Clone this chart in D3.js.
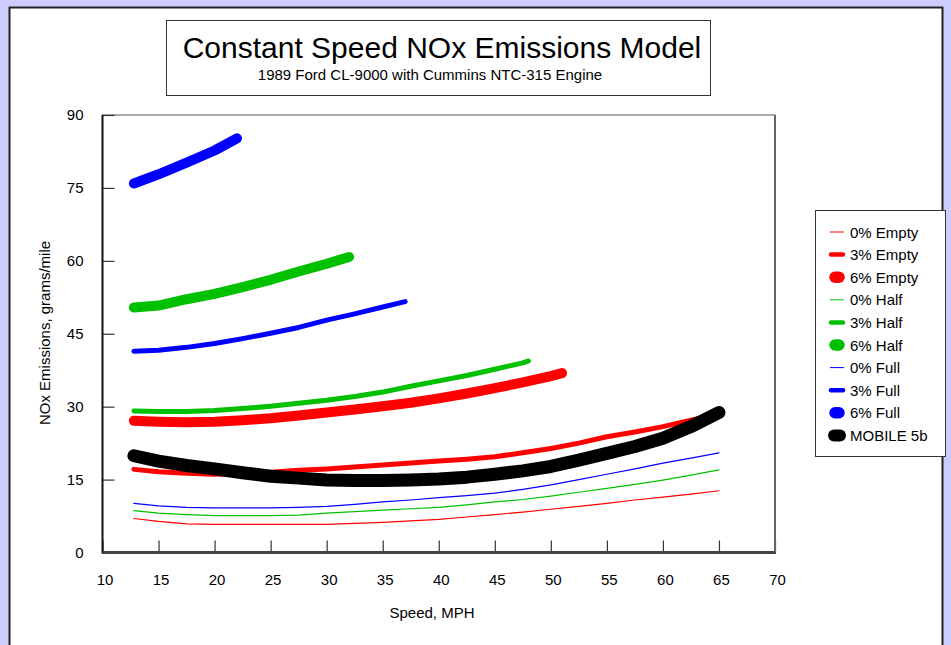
<!DOCTYPE html>
<html>
<head>
<meta charset="utf-8">
<script src="https://cdn.jsdelivr.net/npm/d3@7/dist/d3.min.js"></script>
<style>
  html, body { margin: 0; padding: 0; background: #ccccff; }
  svg { display: block; font-family: "Liberation Sans", Arial, sans-serif; }
</style>
</head>
<body>
<svg id="chart" width="951" height="645"></svg>
<script>
// ---------------- DATA ----------------
const titleText = "Constant Speed NOx Emissions Model";
const subtitleText = "1989 Ford CL-9000 with Cummins NTC-315 Engine";
const xLabel = "Speed, MPH";
const yLabel = "NOx Emissions, grams/mile";

const xTicks = [10, 15, 20, 25, 30, 35, 40, 45, 50, 55, 60, 65, 70];
const yTicks = [0, 15, 30, 45, 60, 75, 90];

const speedsLong   = [12.8, 15, 17.5, 20, 22.5, 25, 27.5, 30, 32.5, 35, 37.5, 40, 42.5, 45, 47.5, 50, 52.5, 55, 57.5, 60, 62.5, 65];
const speeds6Empty = [12.8, 15, 17.5, 20, 22.5, 25, 27.5, 30, 32.5, 35, 37.5, 40, 42.5, 45, 47.5, 50, 51];
const speeds3Half  = [12.8, 15, 17.5, 20, 22.5, 25, 27.5, 30, 32.5, 35, 37.5, 40, 42.5, 45, 47.5, 48];
const speeds6Half  = [12.8, 15, 17.5, 20, 22.5, 25, 27.5, 30, 32];
const speeds3Full  = [12.8, 15, 17.5, 20, 22.5, 25, 27.5, 30, 32.5, 35, 37];
const speeds6Full  = [12.8, 15, 17.5, 20, 22];

const empty0 = [7.0, 6.4, 5.9, 5.8, 5.8, 5.8, 5.8, 5.8, 6.0, 6.2, 6.5, 6.8, 7.3, 7.8, 8.3, 8.9, 9.5, 10.1, 10.8, 11.4, 12.0, 12.7];
const empty3 = [17.1, 16.6, 16.3, 16.1, 16.2, 16.5, 16.9, 17.2, 17.6, 18.0, 18.4, 18.8, 19.2, 19.7, 20.5, 21.4, 22.5, 23.8, 24.8, 25.9, 27.2, 28.5];
const empty6 = [27.1, 26.9, 26.8, 26.9, 27.2, 27.6, 28.2, 28.8, 29.4, 30.1, 30.8, 31.7, 32.7, 33.8, 35.0, 36.3, 36.9];
const half0  = [8.6, 8.1, 7.8, 7.6, 7.6, 7.6, 7.7, 8.1, 8.4, 8.7, 9.0, 9.3, 9.8, 10.4, 10.9, 11.6, 12.4, 13.2, 14.0, 14.9, 15.9, 17.0];
const half3  = [29.1, 29.0, 29.0, 29.2, 29.6, 30.1, 30.7, 31.3, 32.1, 33.0, 34.2, 35.3, 36.4, 37.7, 39.0, 39.4];
const half6  = [50.4, 50.8, 52.1, 53.2, 54.6, 56.1, 57.8, 59.4, 60.8];
const full0  = [10.1, 9.6, 9.3, 9.2, 9.2, 9.2, 9.3, 9.5, 9.9, 10.4, 10.8, 11.3, 11.7, 12.2, 13.0, 13.9, 15.0, 16.1, 17.2, 18.4, 19.4, 20.5];
const full3  = [41.4, 41.6, 42.2, 43.0, 44.0, 45.1, 46.3, 47.8, 49.1, 50.5, 51.6];
const full6  = [75.9, 77.8, 80.2, 82.7, 85.2];
const mobile5b = [19.9, 18.8, 17.9, 17.2, 16.4, 15.7, 15.3, 14.9, 14.8, 14.8, 14.9, 15.1, 15.5, 16.1, 16.8, 17.7, 19.0, 20.4, 21.8, 23.5, 25.9, 28.8];

const seriesNames = ["0% Empty", "3% Empty", "6% Empty", "0% Half", "3% Half", "6% Half", "0% Full", "3% Full", "6% Full", "MOBILE 5b"];
const seriesSpeeds = [speedsLong, speedsLong, speeds6Empty, speedsLong, speeds3Half, speeds6Half, speedsLong, speeds3Full, speeds6Full, speedsLong];
const seriesValues = [empty0, empty3, empty6, half0, half3, half6, full0, full3, full6, mobile5b];

// ---------------- STYLE ----------------
const colorOf = ["#ff0000", "#ff0000", "#ff0000", "#00c000", "#00c000", "#00c000", "#0000ff", "#0000ff", "#0000ff", "#000000"];
const widthOf = [1.2, 5, 10, 1.2, 5, 10, 1.2, 5, 10, 13];

const svg = d3.select("#chart");

// panel
svg.append("rect").attr("x", 9.5).attr("y", 7.5).attr("width", 933).attr("height", 660)
  .attr("fill", "#ffffff").attr("stroke", "#222").attr("stroke-width", 2);

// title box
svg.append("rect").attr("x", 166.5).attr("y", 20.5).attr("width", 544).attr("height", 75)
  .attr("fill", "#fff").attr("stroke", "#333").attr("stroke-width", 1);
svg.append("text").attr("x", 442).attr("y", 58).attr("text-anchor", "middle")
  .attr("font-size", 30).attr("fill", "#000").text(titleText);
svg.append("text").attr("x", 430).attr("y", 80).attr("text-anchor", "middle")
  .attr("font-size", 15).attr("fill", "#000").text(subtitleText);

// scales
const L = 102.5, R = 775, T = 115, B = 552.5;
const x = d3.scaleLinear().domain([10, 70]).range([L, R]);
const y = d3.scaleLinear().domain([0, 90]).range([B, T]);

// plot frame
svg.append("rect").attr("x", L).attr("y", T).attr("width", R - L).attr("height", B - T)
  .attr("fill", "#fff").attr("stroke", "#555").attr("stroke-width", 1);

// axes (inward ticks)
const gx = svg.append("g").attr("transform", `translate(0,${B})`)
  .call(d3.axisBottom(x).tickValues(xTicks).tickSizeInner(-12).tickSizeOuter(0).tickPadding(22).tickFormat(d3.format("d")));
const gy = svg.append("g").attr("transform", `translate(${L},0)`)
  .call(d3.axisLeft(y).tickValues(yTicks).tickSizeInner(-12).tickSizeOuter(0).tickPadding(19).tickFormat(d3.format("d")));
[gx, gy].forEach(g => {
  g.select(".domain").remove();
  g.selectAll(".tick line").attr("stroke", "#333").attr("stroke-width", 1.2);
  g.selectAll(".tick text").attr("font-size", 15).attr("fill", "#000")
    .attr("font-family", "'Liberation Sans', Arial, sans-serif");
});
gx.selectAll(".tick text").attr("dx", 2);

// frame edges
svg.append("line").attr("x1", L).attr("x2", L).attr("y1", T).attr("y2", B + 1)
  .attr("stroke", "#111").attr("stroke-width", 2);
svg.append("line").attr("x1", L).attr("x2", R + 1).attr("y1", B).attr("y2", B)
  .attr("stroke", "#444").attr("stroke-width", 3);
svg.append("line").attr("x1", R).attr("x2", R).attr("y1", T).attr("y2", B)
  .attr("stroke", "#666").attr("stroke-width", 2);

// axis titles
svg.append("text").attr("x", 432).attr("y", 618).attr("text-anchor", "middle")
  .attr("font-size", 15).attr("fill", "#000").text(xLabel);
svg.append("text").attr("transform", `translate(50,333) rotate(-90)`).attr("text-anchor", "middle")
  .attr("font-size", 15).attr("fill", "#000").text(yLabel);

// lines
const lineGen = d3.line().x(d => x(d[0])).y(d => y(d[1]));
seriesNames.forEach((name, i) => {
  const pts = seriesSpeeds[i].map((s, j) => [s, seriesValues[i][j]]);
  svg.append("path").datum(pts).attr("d", lineGen)
    .attr("fill", "none").attr("stroke", colorOf[i]).attr("stroke-width", widthOf[i])
    .attr("stroke-linecap", "round").attr("stroke-linejoin", "round");
});

// legend
const lg = svg.append("g");
lg.append("rect").attr("x", 815.5).attr("y", 210.5).attr("width", 130).attr("height", 246)
  .attr("fill", "#fff").attr("stroke", "#333").attr("stroke-width", 1);
const legY0 = 232, legStep = 22.6;
const legSym = [[830, 844, 1], [831, 843, 4.5], [835, 839, 11.5]];
seriesNames.forEach((name, i) => {
  const yy = legY0 + i * legStep;
  let s = legSym[i % 3];
  if (i === 9) s = [834, 840, 12];
  lg.append("line").attr("x1", s[0]).attr("x2", s[1]).attr("y1", yy).attr("y2", yy)
    .attr("stroke", colorOf[i]).attr("stroke-width", s[2])
    .attr("stroke-linecap", s[2] > 2 ? "round" : "butt");
  lg.append("text").attr("x", 850).attr("y", yy + 5.5).attr("font-size", 15)
    .attr("fill", "#000").text(name);
});
</script>
</body>
</html>
